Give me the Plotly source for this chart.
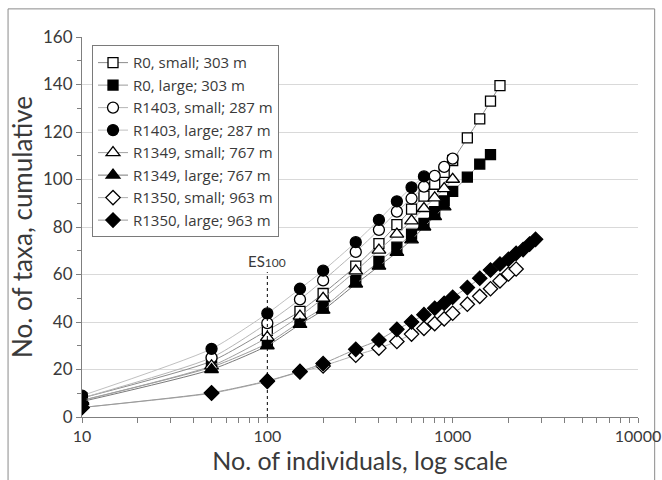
import math
import plotly.graph_objects as go

# ---- data ----
x_r0_small = [10, 50, 100, 150, 200, 300, 400, 500, 600, 700, 800, 900, 1000, 1200, 1400, 1600, 1800]
y_r0_small = [8, 23.5, 36.5, 44.5, 52, 63.5, 73, 81, 87.5, 93, 98, 103, 108, 117.5, 125.5, 133, 139.5]

x_r0_large = [10, 50, 100, 150, 200, 300, 400, 500, 600, 700, 800, 900, 1000, 1200, 1400, 1600]
y_r0_large = [7, 21, 31, 40, 46, 57.5, 65.5, 71.5, 77, 81.5, 86.5, 91, 95, 101, 106.5, 110.5]

x_r1403_small = [10, 50, 100, 150, 200, 300, 400, 500, 600, 700, 800, 900, 1000]
y_r1403_small = [8, 25, 39.5, 49.5, 57.5, 69.5, 78.8, 86.5, 92, 97, 101.5, 105.3, 108.8]

x_r1403_large = [10, 50, 100, 150, 200, 300, 400, 500, 600, 700]
y_r1403_large = [9, 28.7, 43.6, 54, 61.6, 73.6, 83, 90.8, 96.7, 101.3]

x_r1349_small = [10, 50, 100, 150, 200, 300, 400, 500, 600, 700, 800, 900, 1000]
y_r1349_small = [7, 21.5, 33.5, 42.5, 50, 61.5, 70.3, 77, 82.6, 87.8, 92.3, 96.2, 100.1]

x_r1349_large = [10, 50, 100, 150, 200, 300, 400, 500, 600, 700, 800, 900]
y_r1349_large = [6.5, 20, 30, 39, 45, 56, 63.5, 69.3, 74.6, 80, 84.4, 88.5]

x_r1350_small = [10, 50, 100, 150, 200, 300, 400, 500, 600, 700, 800, 900, 1000, 1200, 1400, 1600, 1800, 2000, 2200]
y_r1350_small = [4, 10, 15, 19, 21.5, 26, 29, 31.8, 34.9, 37.3, 39.3, 41.3, 43.7, 47.5, 50.8, 54, 57.3, 60.2, 62.3]

x_r1350_large = [10, 50, 100, 150, 200, 300, 400, 500, 600, 700, 800, 900, 1000, 1200, 1400, 1600, 1800, 2000, 2200, 2400, 2600, 2800]
y_r1350_large = [4, 10.2, 15.2, 19.2, 22.5, 28.5, 32.4, 36.9, 40, 43.1, 45.8, 47.9, 50.4, 54.5, 58.4, 61.9, 64.4, 66.4, 68.9, 70.5, 72.8, 74.8]

series_names = [
    "R0, small; 303 m", "R0, large; 303 m",
    "R1403, small; 287 m", "R1403, large; 287 m",
    "R1349, small; 767 m", "R1349, large; 767 m",
    "R1350, small; 963 m", "R1350, large; 963 m",
]
series_x = [x_r0_small, x_r0_large, x_r1403_small, x_r1403_large,
            x_r1349_small, x_r1349_large, x_r1350_small, x_r1350_large]
series_y = [y_r0_small, y_r0_large, y_r1403_small, y_r1403_large,
            y_r1349_small, y_r1349_large, y_r1350_small, y_r1350_large]

es_x = 100
es_top = 61
es_label_y = 61

x_tickvals = [10, 100, 1000, 10000]
x_minor_tickvals = [20, 30, 40, 50, 60, 70, 80, 90,
                    200, 300, 400, 500, 600, 700, 800, 900,
                    2000, 3000, 4000, 5000, 6000, 7000, 8000, 9000]
y_tickvals = [0, 20, 40, 60, 80, 100, 120, 140, 160]

# ---- styles ----
symbols = ["square", "square", "circle", "circle", "triangle-up", "triangle-up", "diamond", "diamond"]
sizes = [10, 10, 11, 11, 12, 12, 11, 11]
fills = ["white", "black", "white", "black", "white", "black", "white", "black"]
line_cols = ["#8c8c8c", "#9a9a9a", "#b5b5b5", "#c0c0c0", "#a0a0a0", "#7a7a7a", "#b0b0b0", "#9a9a9a"]

FONT = "Lato, 'Open Sans', sans-serif"
LEG_FONT = "'Open Sans', Lato, sans-serif"
TXT = "#3a3a3a"

fig_w, fig_h = 662, 480
m_l, m_r, m_t, m_b = 82, 24, 37, 63

fig = go.Figure()
for i, name in enumerate(series_names):
    fig.add_trace(go.Scatter(
        x=series_x[i], y=series_y[i], name=name, mode="lines+markers",
        line=dict(color=line_cols[i], width=1, shape="spline", smoothing=0.6),
        marker=dict(symbol=symbols[i], size=sizes[i], color=fills[i],
                    line=dict(color="black", width=1.3)),
    ))

# ES100 dotted line
fig.add_trace(go.Scatter(
    x=[es_x, es_x], y=[0, es_top], mode="lines", showlegend=False,
    line=dict(color="black", width=1, dash="dot"), hoverinfo="skip",
))

fig.add_annotation(
    x=math.log10(es_x), y=es_label_y, xref="x", yref="y",
    text="ES<span style='font-size:12px'>100</span>", showarrow=False,
    font=dict(family=FONT, size=15, color=TXT), yanchor="bottom",
)

# outer chart border
fig.add_shape(type="rect", xref="paper", yref="paper",
              x0=-0.133, x1=1.03, y0=-0.17, y1=1.074,
              line=dict(color="#8a8a8a", width=1), fillcolor="rgba(0,0,0,0)", layer="below")

fig.update_layout(
    width=fig_w, height=fig_h,
    margin=dict(l=m_l, r=m_r, t=m_t, b=m_b, autoexpand=False),
    paper_bgcolor="white", plot_bgcolor="white",
    font=dict(family=FONT, color=TXT),
    showlegend=True,
    legend=dict(
        x=0.018, y=0.978, xanchor="left", yanchor="top",
        bgcolor="white", bordercolor="#7a7a7a", borderwidth=1,
        font=dict(family=LEG_FONT, size=15, color=TXT),
        tracegroupgap=0, itemwidth=30,
    ),
    xaxis=dict(
        type="log", range=[1, 4],
        tickvals=x_tickvals, ticktext=[str(v) for v in x_tickvals],
        showgrid=False, showline=True, linecolor="#7f7f7f", linewidth=1,
        ticks="outside", ticklen=5, tickcolor="#7f7f7f",
        minor=dict(ticks="outside", ticklen=5, tickcolor="#7f7f7f", showgrid=False,
                   tickvals=x_minor_tickvals),
        tickfont=dict(family=FONT, size=16, color=TXT),
        ticklabeloverflow="allow",
        title=dict(text="No. of individuals, log scale", font=dict(family=FONT, size=25, color=TXT), standoff=2),
        zeroline=False, automargin=False,
    ),
    yaxis=dict(
        range=[0, 160], tickvals=y_tickvals,
        showgrid=True, gridcolor="#d9d9d9", gridwidth=1,
        showline=True, linecolor="#7f7f7f", linewidth=1,
        ticks="outside", ticklen=5, tickcolor="#7f7f7f",
        minor=dict(ticks="outside", ticklen=4, dtick=10, tickcolor="#7f7f7f", showgrid=False),
        tickfont=dict(family=FONT, size=17, color=TXT),
        title=dict(text="No. of taxa, cumulative", font=dict(family=FONT, size=26, color=TXT), standoff=2),
        zeroline=False, automargin=False,
    ),
)

fig.write_html("out.html", config={"displayModeBar": False},
               post_script="document.body.style.margin='0';")
